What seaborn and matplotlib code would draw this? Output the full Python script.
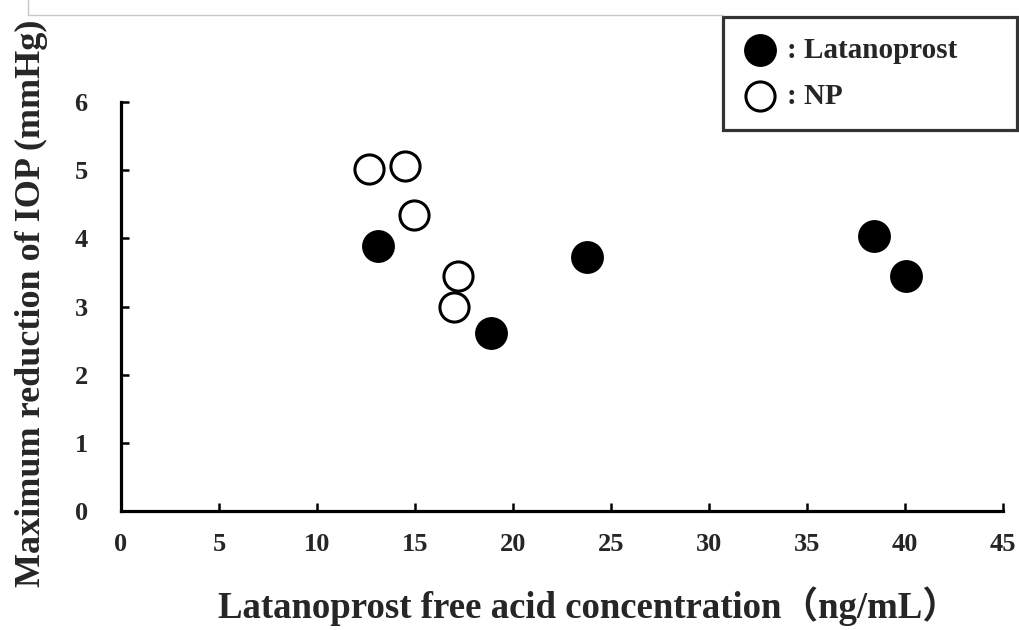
import matplotlib
matplotlib.use("Agg")
import matplotlib.pyplot as plt
from matplotlib.lines import Line2D
import seaborn as sns
import pandas as pd

# Latanoprost group (filled circles)
lat_conc = [13.1, 18.9, 23.8, 38.4, 40.05]
lat_iop = [3.89, 2.61, 3.72, 4.03, 3.45]
# NP group (open circles)
np_conc = [12.65, 14.5, 14.95, 17.2, 17.0]
np_iop = [5.01, 5.06, 4.34, 3.45, 2.99]

x_ticks = [0, 5, 10, 15, 20, 25, 30, 35, 40, 45]
y_ticks = [0, 1, 2, 3, 4, 5, 6]

sns.set_theme(style="white")
serif_cjk = ["Liberation Serif", "Noto Sans CJK JP", "DejaVu Sans"]
plt.rcParams["font.family"] = serif_cjk
plt.rcParams["font.weight"] = "bold"

fig = plt.figure(figsize=(10.2, 6.3), dpi=100)
ax = fig.add_axes([121 / 1020, 1 - 511 / 630, 882 / 1020, 409 / 630])

lat_df = pd.DataFrame({"conc": lat_conc, "iop": lat_iop})
np_df = pd.DataFrame({"conc": np_conc, "iop": np_iop})

sns.scatterplot(data=lat_df, x="conc", y="iop", ax=ax, s=560, color="black",
                edgecolor="black", linewidth=0, label=": Latanoprost", zorder=3)
sns.scatterplot(data=np_df, x="conc", y="iop", ax=ax, s=440, facecolor="white",
                edgecolor="black", linewidth=2.2, label=": NP", zorder=3)

ax.set_xlim(0, 45)
ax.set_ylim(0, 6)
ax.set_xticks(x_ticks)
ax.set_yticks(y_ticks)
ax.set_xticklabels([str(t) for t in x_ticks], fontsize=19, fontweight="bold")
ax.set_yticklabels([str(t) for t in y_ticks], fontsize=19, fontweight="bold")

for side in ("top", "right"):
    ax.spines[side].set_visible(False)
for side in ("left", "bottom"):
    ax.spines[side].set_color("black")
    ax.spines[side].set_linewidth(2.3)

ax.tick_params(axis="both", direction="in", length=6, width=1.8, color="black",
               left=True, bottom=True)
ax.tick_params(axis="y", pad=24)
ax.tick_params(axis="x", pad=16)

ax.set_xlabel("Latanoprost free acid concentration（ng/mL）", fontsize=26.5,
              fontweight="bold", va="center")
ax.set_ylabel("Maximum reduction of IOP (mmHg)", fontsize=26,
              fontweight="bold", va="center")
ax.xaxis.set_label_coords(0.53, -0.232)
ax.yaxis.set_label_coords(-0.102, 0.509)

leg = ax.legend(loc="upper left",
                bbox_to_anchor=(723 / 1020, 1 - 127 / 630, 294 / 1020, 110 / 630),
                bbox_transform=fig.transFigure, mode="expand",
                frameon=True, fancybox=False,
                prop={"family": serif_cjk, "weight": "bold", "size": 21},
                handletextpad=0.32, borderpad=0.68, labelspacing=0.66,
                handlelength=1.2, markerscale=1.0, borderaxespad=0)
leg.get_frame().set_edgecolor("black")
leg.get_frame().set_linewidth(2.3)
leg.get_frame().set_boxstyle("square", pad=0)

# thin page border in the top-left corner
fig.add_artist(Line2D([28 / 1020, 723 / 1020], [1 - 15 / 630, 1 - 15 / 630],
                      color="#c8c8c8", linewidth=1))
fig.add_artist(Line2D([28 / 1020, 28 / 1020], [1 - 15 / 630, 1.0],
                      color="#c8c8c8", linewidth=1))

fig.savefig("out.png", dpi=100)
